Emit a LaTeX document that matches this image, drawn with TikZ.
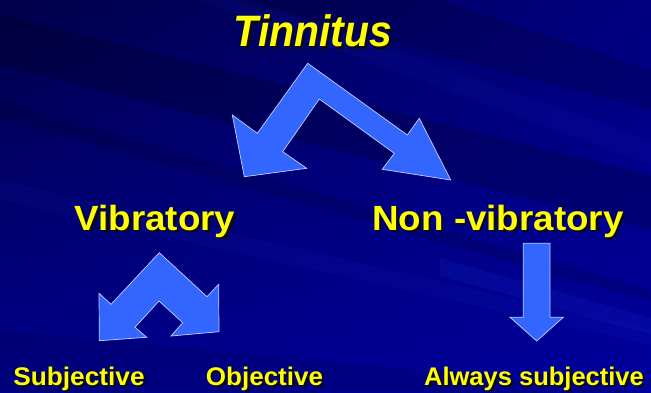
\documentclass[tikz,border=0pt]{standalone}
\usepackage{fontspec}
\setmainfont{Liberation Sans}
\usetikzlibrary{shadings}
\definecolor{bgA}{HTML}{00004A}
\definecolor{bgB}{HTML}{000080}
\definecolor{bgC}{HTML}{00008C}
\definecolor{bgD}{HTML}{00009C}
\definecolor{streak}{HTML}{3050FF}
\definecolor{arrowblue}{HTML}{3366FF}
\definecolor{txtyellow}{HTML}{FFFF00}
\definecolor{shadowc}{HTML}{0A0A14}
\newcommand{\shtxt}[2]{\scalebox{#1}[1]{\makebox[0pt][l]{\hspace{2.4pt}\raisebox{-2.4pt}{\color{shadowc}#2}}#2}}
\tikzset{
  lbl/.style={anchor=base, inner sep=0pt, text=txtyellow},
  bigfont/.style={font=\bfseries\fontsize{35}{38}\selectfont},
  smallfont/.style={font=\bfseries\fontsize{25.5}{28}\selectfont},
  titlefont/.style={font=\bfseries\itshape\fontsize{44}{48}\selectfont},
  blockarrow/.style={fill=arrowblue, draw=white!70!arrowblue, line width=0.7pt, line join=miter},
  lightband/.style={fill=streak, opacity=#1, draw=none},
  darkband/.style={fill=black, opacity=#1, draw=none}
}
\begin{document}
\begin{tikzpicture}[x=1pt,y=-1pt]
\useasboundingbox (0,0) rectangle (651,392);
% background
\shade[upper left=bgA, upper right=bgB, lower left=bgC, lower right=bgD] (0,0) rectangle (651,392);
\fill[darkband=0.18] (0,15) -- (651,175) -- (651,230) -- (0,65) -- cycle;
\fill[darkband=0.12] (0,100) -- (651,290) -- (651,302) -- (0,118) -- cycle;
\fill[darkband=0.15] (0,0) -- (230,0) -- (651,110) -- (651,70) -- (440,0) -- cycle;
\fill[darkband=0.10] (0,330) -- (651,392) -- (0,392) -- cycle;
\fill[lightband=0.10] (440,258) -- (651,318) -- (651,334) -- (440,276) -- cycle;
\fill[lightband=0.06] (250,0) -- (651,140) -- (651,165) -- (200,0) -- cycle;
\fill[lightband=0.05] (0,180) -- (651,330) -- (651,345) -- (0,200) -- cycle;
% arrows
\draw[blockarrow] (307.7,63.3) -- (257.3,133.3) -- (232.3,115) -- (244.3,176.7) -- (306.7,168.3) -- (282.7,151.7) -- (319.3,99) -- (394.3,153.3) -- (382.3,169.3) -- (450.7,180) -- (419.3,118.3) -- (407.3,135) -- cycle;
\draw[blockarrow] (159.3,252.7) -- (111,304.3) -- (99,293.3) -- (99.3,340.7) -- (146.7,337.3) -- (135,327.3) -- (159,301) -- (182.7,322.7) -- (171,336) -- (219,331.7) -- (218.7,284.3) -- (207,296.7) -- cycle;
\draw[blockarrow] (523.3,243.3) -- (550,243.3) -- (550,317.3) -- (563.3,317.3) -- (536.7,341) -- (510,317.3) -- (523.3,317.3) -- cycle;
% texts
\node[lbl, titlefont] (tin) at (313,46.7) {\shtxt{0.93}{Tinnitus}};
\node[lbl, bigfont] (vib) at (155,230) {\shtxt{1.05}{Vibratory}};
\node[lbl, bigfont] (non) at (498,230) {\shtxt{1.05}{Non -vibratory}};
\node[lbl, smallfont] (sub) at (79,385) {\shtxt{1.03}{Subjective}};
\node[lbl, smallfont] (obj) at (264.5,385) {\shtxt{1.02}{Objective}};
\node[lbl, smallfont] (alw) at (534,385) {\shtxt{1.0}{Always subjective}};
\end{tikzpicture}
\end{document}
